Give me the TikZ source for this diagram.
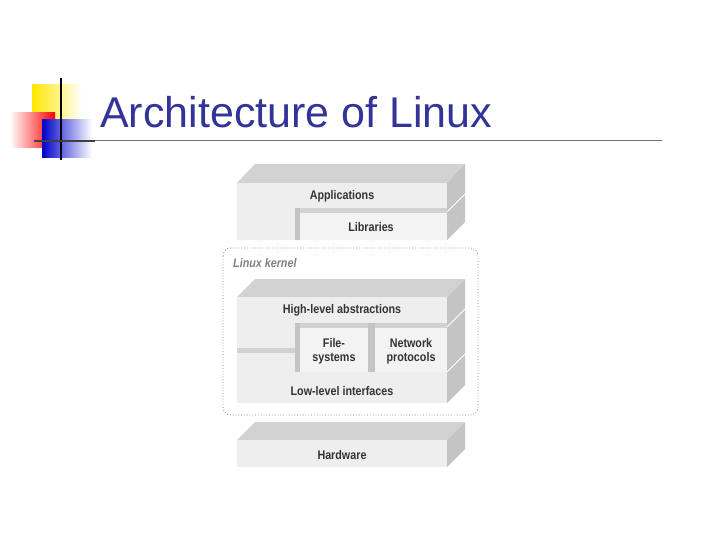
\documentclass[tikz,border=0pt]{standalone}
\usepackage{fontspec}
\setmainfont{Liberation Sans}
\newfontfamily\cond[FakeStretch=0.86]{Liberation Sans}
\definecolor{fr}{HTML}{EEEEEE}
\definecolor{tp}{HTML}{D2D2D2}
\definecolor{sd}{HTML}{C4C4C4}
\definecolor{ttl}{HTML}{333399}
\tikzset{lbl/.style={font=\cond\bfseries\fontsize{12.5}{14}\selectfont, text=black!80, align=center, inner sep=0},
front/.style={fill=fr, draw=none}, topf/.style={fill=tp, draw=none}, sidef/.style={fill=sd, draw=none}}
\begin{document}
\begin{tikzpicture}[x=1pt,y=-1pt]
\useasboundingbox[fill=white] (0,0) rectangle (720,540);
% logo
\shade[left color=yellow!80!orange, right color=white] (32,85) rectangle (82,120);
\shade[left color=white, right color=red] (10,113) rectangle (55,148);
\shade[left color=blue!80!black, right color=white] (42,120) rectangle (92,158);
\draw[line width=2pt, black] (61,78) -- (61,160);
\draw[line width=1.5pt, black!75] (34,141) -- (95,141);
\draw[line width=1pt, black!55] (95,141) -- (662,141);
\node[anchor=base west, inner sep=0, text=ttl, font=\fontsize{43}{46}\selectfont] (title) at (100,128) {Architecture of Linux};
% applications
\fill[topf] (237,183) -- (255,164) -- (465,164) -- (447,183) -- cycle;
\fill[sidef] (447,183) -- (465,164) -- (465,222) -- (447,240) -- cycle;
\draw[white, line width=1pt] (447,212) -- (465,194);
\fill[front] (237,183) rectangle (447,240);
\fill[tp] (295,208) rectangle (447,213);
\fill[sd] (295,208) rectangle (300,240);
\fill[fr!70!white] (300,213) rectangle (447,240);
\node[lbl] (app) at (342,196) {Applications};
\node[lbl] (lib) at (371,227) {Libraries};
% kernel
\draw[dotted, black!50, line width=0.8pt, rounded corners=8pt] (223,248) rectangle (478,415);
\node[anchor=west, inner sep=0, font=\cond\bfseries\itshape\fontsize{12.5}{14}\selectfont, text=black!50] (lk) at (233,263) {Linux kernel};
\fill[topf] (237,297) -- (255,279) -- (465,279) -- (447,297) -- cycle;
\fill[sidef] (447,297) -- (465,279) -- (465,385) -- (447,403) -- cycle;
\draw[white, line width=1pt] (447,327) -- (465,309);
\draw[white, line width=1pt] (447,372) -- (465,354);
\fill[front] (237,297) rectangle (447,403);
\fill[tp] (237,348) rectangle (295,353);
\fill[tp] (295,323) rectangle (447,328);
\fill[sd] (295,323) rectangle (300,372);
\fill[sd] (368,323) rectangle (375,372);
\fill[fr!70!white] (300,328) rectangle (368,372);
\fill[fr!70!white] (375,328) rectangle (447,372);
\node[lbl] (hl) at (342,310) {High-level abstractions};
\node[lbl] (fs) at (334,351) {File-\\systems};
\node[lbl] (np) at (411,351) {Network\\protocols};
\node[lbl] (ll) at (342,391) {Low-level interfaces};
% hardware
\fill[topf] (237,440) -- (255,422) -- (465,422) -- (447,440) -- cycle;
\fill[sidef] (447,440) -- (465,422) -- (465,449) -- (447,467) -- cycle;
\fill[front] (237,440) rectangle (447,467);
\node[lbl] (hw) at (342,455) {Hardware};
\end{tikzpicture}
\end{document}
